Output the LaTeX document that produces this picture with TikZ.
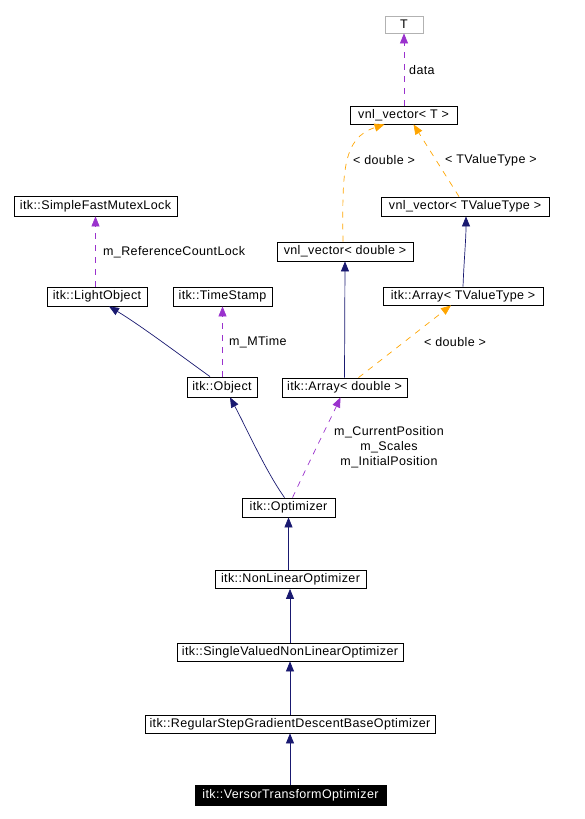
\documentclass[tikz,border=0pt]{standalone}
\usepackage{fontspec}
\setmainfont[LetterSpace=3]{Liberation Sans}
\usetikzlibrary{arrows.meta}
\definecolor{navy}{HTML}{191970}
\definecolor{purp}{HTML}{9A32CD}
\definecolor{orng}{HTML}{FFA500}
\tikzset{
  cls/.style={draw=black, line width=0.8pt, fill=white, inner sep=0pt, font=\fontsize{12.5}{15}\selectfont, anchor=center},
  inh/.style={draw=navy, line width=0.7pt, -{Triangle[width=8pt,length=10pt]}},
  use/.style={draw=purp, line width=0.7pt, dash pattern=on 6pt off 6pt, -{Triangle[width=8pt,length=10pt]}},
  tpl/.style={draw=orng, line width=0.7pt, dash pattern=on 6pt off 6pt, -{Triangle[width=8pt,length=10pt]}},
  lbl/.style={font=\fontsize{12.5}{15}\selectfont, inner sep=0pt},
}
\begin{document}
\begin{tikzpicture}[x=1pt,y=-1pt]
\useasboundingbox (0,0) rectangle (585,819);
% nodes: minimum sizes
\node[cls, draw=gray!60, minimum width=38pt, minimum height=17pt] (T) at (404,24.5) {T};
\node[cls, minimum width=107pt, minimum height=18pt] (vT) at (403.5,115) {vnl\_vector< T >};
\node[cls, minimum width=168pt, minimum height=19pt] (vTV) at (465,206.5) {vnl\_vector< TValueType >};
\node[cls, minimum width=163pt, minimum height=20pt] (mutex) at (95.5,206) {itk::SimpleFastMutexLock};
\node[cls, minimum width=136pt, minimum height=19pt] (vD) at (345,251.5) {vnl\_vector< double >};
\node[cls, minimum width=100pt, minimum height=19pt] (light) at (97,296.5) {itk::LightObject};
\node[cls, minimum width=99pt, minimum height=19pt] (time) at (222.5,296.5) {itk::TimeStamp};
\node[cls, minimum width=160pt, minimum height=18pt] (aTV) at (463,296) {itk::Array< TValueType >};
\node[cls, minimum width=70pt, minimum height=20pt] (obj) at (222,387) {itk::Object};
\node[cls, minimum width=125pt, minimum height=19pt] (aD) at (344.5,387.5) {itk::Array< double >};
\node[cls, minimum width=93pt, minimum height=19pt] (opt) at (288.5,507.5) {itk::Optimizer};
\node[cls, minimum width=151pt, minimum height=18pt] (nlo) at (290.5,579.5) {itk::NonLinearOptimizer};
\node[cls, minimum width=226pt, minimum height=18pt] (svo) at (290,652) {itk::SingleValuedNonLinearOptimizer};
\node[cls, minimum width=290pt, minimum height=18pt] (rsg) at (290,724) {itk::RegularStepGradientDescentBaseOptimizer};
\node[cls, fill=black, text=white, minimum width=191pt, minimum height=20pt] (vto) at (290.5,795) {itk::VersorTransformOptimizer};
% edges
\draw[use] (vT.north -| T) -- (T.south);
\node[lbl, anchor=west] (l1) at (409,70) {data};
\draw[tpl] ([xshift=-2pt]vD.north) .. controls (342,170) and (343,138) .. ([xshift=-19pt]vT.south);
\node[lbl, anchor=west] (l2) at (353,160) {< double >};
\draw[tpl] ([xshift=-6pt]vTV.north) -- ([xshift=10pt]vT.south);
\node[lbl, anchor=west] (l3) at (445,160) {< TValueType >};
\draw[inh] (aTV.north) .. controls (464,260) and (466,240) .. ([xshift=1pt]vTV.south);
\draw[inh] (aD.north) -- (vD.south);
\draw[tpl] ([xshift=14pt]aD.north) -- ([xshift=-12pt]aTV.south);
\node[lbl, anchor=west] (l4) at (424,342) {< double >};
\draw[use] (light.north -| mutex) -- (mutex.south);
\node[lbl, anchor=west] (l5) at (103,252) {m\_ReferenceCountLock};
\draw[inh] ([xshift=-12pt]obj.north) .. controls (180,355) and (140,325) .. ([xshift=12pt]light.south);
\draw[use] (obj.north -| time) -- (time.south);
\node[lbl, anchor=west] (l6) at (229,342) {m\_MTime};
\draw[inh] ([xshift=-4pt]opt.north) .. controls (265,470) and (245,425) .. ([xshift=8pt]obj.south);
\draw[use] ([xshift=4pt]opt.north) .. controls (310,460) and (330,420) .. ([xshift=-4pt]aD.south);
\node[lbl, align=center] (l7) at (389,447) {m\_CurrentPosition\\m\_Scales\\m\_InitialPosition};
\draw[inh] (nlo.north -| opt) -- (opt.south);
\draw[inh] (svo.north) -- (nlo.south -| svo);
\draw[inh] (rsg.north) -- (svo.south);
\draw[inh] (vto.north -| rsg) -- (rsg.south);
\end{tikzpicture}
\end{document}
